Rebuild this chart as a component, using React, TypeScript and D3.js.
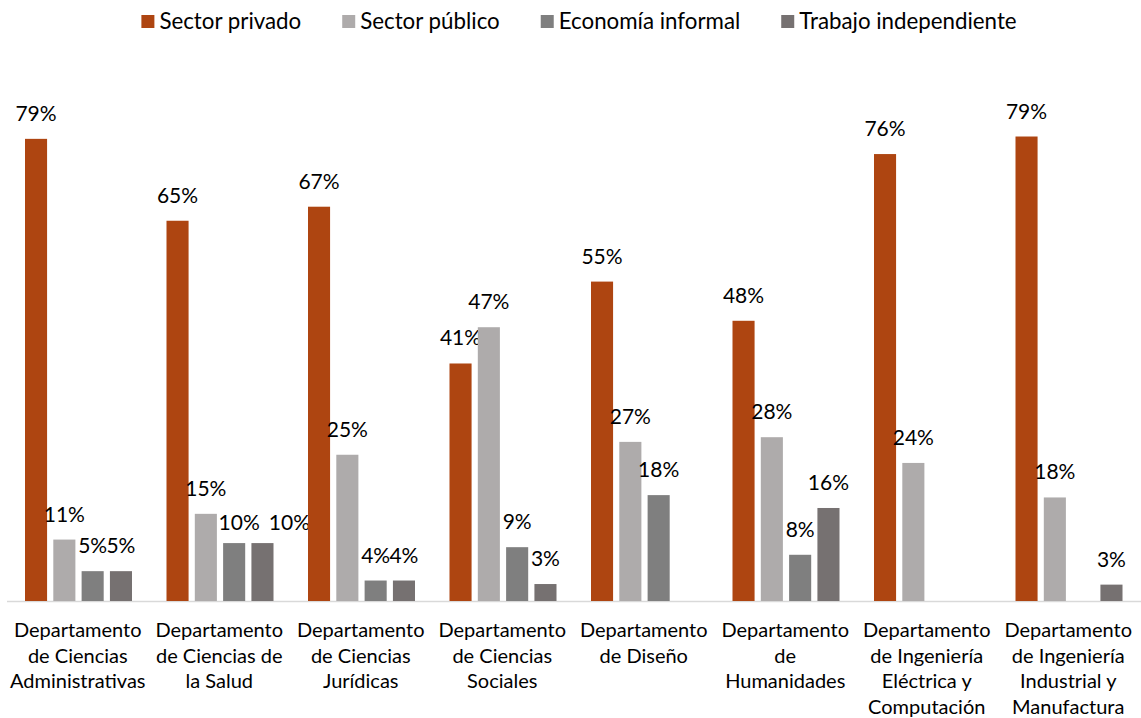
import React, { useEffect, useRef } from "react";
import * as d3 from "d3";

const categories: string[][] = [
  ["Departamento", "de Ciencias", "Administrativas"],
  ["Departamento", "de Ciencias de", "la Salud"],
  ["Departamento", "de Ciencias", "Jurídicas"],
  ["Departamento", "de Ciencias", "Sociales"],
  ["Departamento", "de Diseño"],
  ["Departamento", "de", "Humanidades"],
  ["Departamento", "de Ingeniería", "Eléctrica y", "Computación"],
  ["Departamento", "de Ingeniería", "Industrial y", "Manufactura"],
];

const seriesNames = ["Sector privado", "Sector público", "Economía informal", "Trabajo independiente"];

const sectorPrivado: (number | null)[] = [79, 65, 67.4, 40.6, 54.6, 47.9, 76.4, 79.4];
const sectorPublico: (number | null)[] = [10.5, 14.9, 25, 46.8, 27.2, 28, 23.6, 17.7];
const economiaInformal: (number | null)[] = [5.1, 9.9, 3.5, 9.2, 18.1, 7.9, null, null];
const trabajoIndependiente: (number | null)[] = [5.1, 9.9, 3.5, 2.9, null, 15.9, null, 2.8];

const seriesValues = [sectorPrivado, sectorPublico, economiaInformal, trabajoIndependiente];
const seriesColors = ["#AE4511", "#AEABAB", "#7F7F7F", "#767171"];

// manual label nudges (dx, dy) as in the original chart: key "category-series"
const labelNudges: Record<string, [number, number]> = {
  "1-2": [5, 5],
  "1-3": [27, 5],
};

const W = 1141;
const H = 718;
const FONT = "Lato, 'Noto Sans', sans-serif";

export default function App() {
  const ref = useRef<SVGSVGElement | null>(null);

  useEffect(() => {
    const svg = d3.select(ref.current);
    svg.selectAll("*").remove();

    const baseline = 601;
    const x0 = d3.scaleBand<number>().domain(d3.range(categories.length)).range([7, 1139]).padding(0);
    const x1 = d3.scaleBand<number>().domain(d3.range(seriesNames.length)).range([18, 125]).paddingInner(0.22);
    const y = d3.scaleLinear().domain([0, 100]).range([baseline, baseline - 585]);

    svg.append("line")
      .attr("x1", 7).attr("x2", W).attr("y1", baseline + 0.5).attr("y2", baseline + 0.5)
      .attr("stroke", "#D9D9D9").attr("stroke-width", 1.5);

    const groups = svg.append("g");
    categories.forEach((_, ci) => {
      seriesValues.forEach((vals, si) => {
        const v = vals[ci];
        if (v == null) return;
        const bx = (x0(ci) as number) + (x1(si) as number);
        groups.append("rect")
          .attr("x", bx).attr("y", y(v))
          .attr("width", x1.bandwidth()).attr("height", baseline - y(v))
          .attr("fill", seriesColors[si]);
        const nudge = labelNudges[`${ci}-${si}`] || [0, 0];
        groups.append("text")
          .attr("x", bx + x1.bandwidth() / 2 + nudge[0])
          .attr("y", y(v) - 18 + nudge[1])
          .attr("text-anchor", "middle")
          .attr("font-family", FONT).attr("font-size", 21)
          .attr("fill", "#000")
          .text(`${Math.round(v)}%`);
      });
    });

    categories.forEach((lines, ci) => {
      const cx = (x0(ci) as number) + x0.bandwidth() / 2;
      const t = svg.append("text")
        .attr("text-anchor", "middle")
        .attr("font-family", FONT).attr("font-size", 20)
        .attr("fill", "#000");
      lines.forEach((ln, li) => {
        t.append("tspan").attr("x", cx).attr("y", 637 + li * 25.5).text(ln);
      });
    });

    const lg = svg.append("g");
    const items: { g: any; w: number }[] = [];
    seriesNames.forEach((name, si) => {
      const g = lg.append("g");
      g.append("rect").attr("x", 0).attr("y", 15).attr("width", 13).attr("height", 13).attr("fill", seriesColors[si]);
      const t = g.append("text").attr("x", 18).attr("y", 29)
        .attr("font-family", FONT).attr("font-size", 22.3).attr("fill", "#000").text(name);
      const w = 18 + (t.node() as SVGTextElement).getComputedTextLength();
      items.push({ g, w });
    });
    const gap = 41;
    const total = d3.sum(items, (d) => d.w) + gap * (items.length - 1);
    let cx = 579 - total / 2;
    items.forEach((it) => {
      it.g.attr("transform", `translate(${cx},0)`);
      cx += it.w + gap;
    });
  }, []);

  return (
    <div style={{ position: "fixed", left: 0, top: 0, width: W, height: H, overflow: "hidden", background: "#fff" }}>
      <svg ref={ref} width={W} height={H} style={{ display: "block" }} />
    </div>
  );
}
